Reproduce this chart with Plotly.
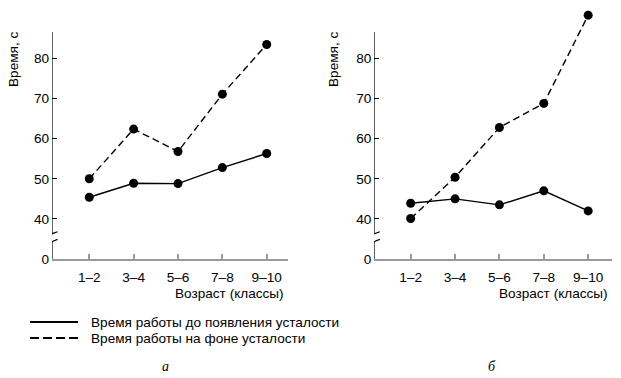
import plotly.graph_objects as go

categories = ["1–2", "3–4", "5–6", "7–8", "9–10"]
a_before = [45.4, 48.9, 48.8, 52.8, 56.3]
a_during = [50.0, 62.4, 56.8, 71.1, 83.5]
b_before = [43.9, 45.0, 43.5, 47.0, 42.0]
b_during = [40.1, 50.4, 62.8, 68.8, 90.8]
y_tick_vals = [40, 50, 60, 70, 80]
legend_labels = ["Время работы до появления усталости", "Время работы на фоне усталости"]
panel_labels = ["а", "б"]

# The axis is broken: 0 is drawn one step (10 units) below 40
BREAK_ZERO = 30
FONT = "Liberation Sans, Arial, sans-serif"
FS = 13.6

W, H = 621, 378
fig = go.Figure()
idx = list(range(len(categories)))

panels = [
    dict(before=a_before, during=a_during, xa="x", ya="y", rng=[-0.84, 4.48], dom=[52 / W, 288 / W]),
    dict(before=b_before, during=b_during, xa="x2", ya="y2", rng=[-0.82, 4.53], dom=[374.3 / W, 611.7 / W]),
]

ydom = [(H - 259) / H, (H - 8) / H]
yrange = [BREAK_ZERO, BREAK_ZERO + 251 / 4.01]

for p in panels:
    for vals, dash in [(p["before"], "solid"), (p["during"], "dash")]:
        fig.add_trace(go.Scatter(
            x=idx, y=vals, xaxis=p["xa"], yaxis=p["ya"], mode="lines+markers",
            line=dict(color="black", width=1.4, dash="7px,4px" if dash == "dash" else "solid"),
            marker=dict(color="black", size=9), showlegend=False, cliponaxis=False,
        ))

tickvals = [BREAK_ZERO] + y_tick_vals
ticktext = ["0"] + [str(v) for v in y_tick_vals]

layout = dict(
    width=W, height=H, margin=dict(l=0, r=0, t=0, b=0),
    paper_bgcolor="white", plot_bgcolor="white",
    font=dict(family=FONT, size=FS, color="black"),
    showlegend=False,
)
for i, p in enumerate(panels):
    sx = "" if i == 0 else "2"
    layout["xaxis" + sx] = dict(
        domain=p["dom"], range=p["rng"], tickvals=idx, ticktext=categories,
        showgrid=False, zeroline=False, showline=True, linecolor="#9a9a9a", linewidth=1.5,
        ticks="inside", ticklen=5, tickcolor="#9a9a9a", tickwidth=1.5,
        ticklabelstandoff=5, anchor="y" + sx, fixedrange=True, automargin=False,
    )
    layout["yaxis" + sx] = dict(
        domain=ydom, range=yrange, tickvals=tickvals, ticktext=ticktext,
        showgrid=False, zeroline=False, showline=False,
        ticks="inside", ticklen=5, tickcolor="black", tickwidth=1,
        ticklabelstandoff=2, anchor="x" + sx, fixedrange=True, automargin=False,
    )
fig.update_layout(**layout)

shapes = []
annotations = []
for i, p in enumerate(panels):
    sx = "" if i == 0 else "2"
    x0 = p["rng"][0]
    px = (p["dom"][1] - p["dom"][0]) * W / (p["rng"][1] - p["rng"][0])  # pixels per category
    # y axis line with a break
    for ya, yb in [(BREAK_ZERO, 34.4), (36.2, BREAK_ZERO + 227 / 4.01)]:
        shapes.append(dict(type="line", xref="x" + sx, yref="y" + sx, x0=x0, x1=x0, y0=ya, y1=yb,
                           line=dict(color="black", width=1.2)))
    # break slashes
    for ya, yb in [(35.7, 36.8), (33.7, 34.9)]:
        shapes.append(dict(type="line", xref="x" + sx, yref="y" + sx,
                           x0=x0 - 6.5 / px, x1=x0 + 5.5 / px, y0=ya, y1=yb,
                           line=dict(color="black", width=1.2)))
    # x axis title
    annotations.append(dict(text="Возраст (классы)", xref="paper", yref="paper",
                            x=(p["dom"][1] * W - 2) / W, y=(H - 293) / H, xanchor="right", yanchor="middle",
                            showarrow=False, font=dict(size=FS)))
    # y axis title
    ytx = [13, 333][i]
    annotations.append(dict(text="Время, с", xref="paper", yref="paper", textangle=-90,
                            x=ytx / W, y=(H - 60) / H, xanchor="center", yanchor="middle",
                            showarrow=False, font=dict(size=FS)))
    # panel label
    plx = [165, 492][i]
    annotations.append(dict(text="<i>" + panel_labels[i] + "</i>", xref="paper", yref="paper",
                            x=plx / W, y=(H - 366) / H, xanchor="center", yanchor="middle",
                            showarrow=False, font=dict(size=14, family="Liberation Serif, serif")))

# legend
for j, (lab, dash) in enumerate(zip(legend_labels, ["solid", "9px,4px"])):
    ly = [322, 338][j]
    shapes.append(dict(type="line", xref="paper", yref="paper", x0=30 / W, x1=78 / W,
                       y0=(H - ly) / H, y1=(H - ly) / H, line=dict(color="black", width=2, dash=dash)))
    annotations.append(dict(text=lab, xref="paper", yref="paper", x=89 / W, y=(H - ly) / H,
                            xanchor="left", yanchor="middle", showarrow=False, font=dict(size=13.6)))

fig.update_layout(shapes=shapes, annotations=annotations)
fig.write_html("out.html", config={"displayModeBar": False},
               post_script="document.body.style.margin='0px';")
